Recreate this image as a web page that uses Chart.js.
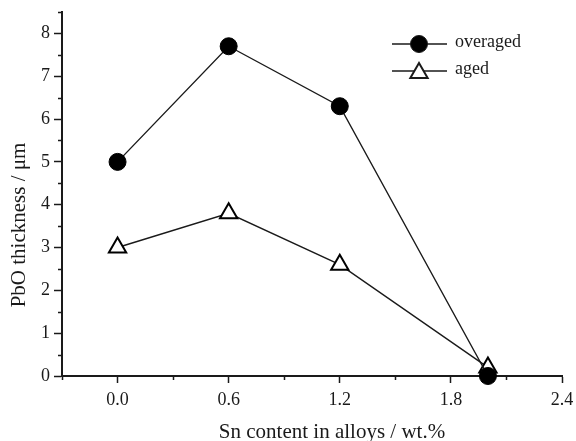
<!DOCTYPE html>
<html>
<head>
<meta charset="utf-8">
<script src="https://cdn.jsdelivr.net/npm/chart.js@4.4.0/dist/chart.umd.min.js"></script>
<style>
  body { margin: 0; background: #fff; }
  canvas { display: block; }
</style>
</head>
<body>
<canvas id="pboChart" width="576" height="441"></canvas>
<script>
// values
var snContent = [0.0, 0.6, 1.2, 2.0];
var overaged = [5.0, 7.7, 6.3, 0.0];
var aged = [3.0, 3.8, 2.6, 0.2];
var xTicks = [0.0, 0.6, 1.2, 1.8, 2.4];
var xMinor = [-0.3, 0.3, 0.9, 1.5, 2.1];
var yTicks = [0, 1, 2, 3, 4, 5, 6, 7, 8];
var yMinor = [0.5, 1.5, 2.5, 3.5, 4.5, 5.5, 6.5, 7.5, 8.5];
var seriesNames = ["overaged", "aged"];

var ink = '#1a1a1a';
var serif = "'Liberation Serif', 'Times New Roman', serif";

function toPoints(xs, ys) {
    var pts = [];
    for (var i = 0; i < xs.length; i++) {
        pts.push({x: xs[i], y: ys[i]});
    }
    return pts;
}

// short minor ticks, axis titles and the line-marker-line legend
var extras = {
    id: 'extras',
    afterDraw: function (chart) {
        var ctx = chart.ctx;
        var xs = chart.scales.x, ys = chart.scales.y;
        var area = chart.chartArea;
        ctx.save();
        ctx.strokeStyle = ink;
        ctx.lineWidth = 1.5;
        ctx.beginPath();
        xMinor.forEach(function (v) {
            var px = Math.round(xs.getPixelForValue(v)) + 0.5;
            ctx.moveTo(px, area.bottom);
            ctx.lineTo(px, area.bottom + 4);
        });
        yMinor.forEach(function (v) {
            var py = Math.round(ys.getPixelForValue(v)) + 0.5;
            ctx.moveTo(area.left, py);
            ctx.lineTo(area.left - 4, py);
        });
        ctx.stroke();

        ctx.fillStyle = ink;
        ctx.font = "21px " + serif;
        ctx.textAlign = 'center';
        ctx.textBaseline = 'middle';
        ctx.fillText("Sn content in alloys / wt.%", 332, 432);
        ctx.save();
        ctx.translate(19, 225);
        ctx.rotate(-Math.PI / 2);
        ctx.fillText("PbO thickness / \u03bcm", 0, 0);
        ctx.restore();

        // legend
        ctx.font = "18px " + serif;
        ctx.textAlign = 'left';
        chart.data.datasets.forEach(function (ds, i) {
            var ly = 44 + i * 27;
            ctx.strokeStyle = ink;
            ctx.lineWidth = 1.5;
            ctx.beginPath();
            ctx.moveTo(392, ly);
            ctx.lineTo(447, ly);
            ctx.stroke();
            ctx.fillStyle = ds.pointBackgroundColor;
            ctx.strokeStyle = ink;
            ctx.lineWidth = ds.pointBorderWidth;
            Chart.helpers.drawPoint(ctx, {
                pointStyle: ds.pointStyle,
                radius: ds.pointRadius,
                rotation: 0,
                borderWidth: ds.pointBorderWidth
            }, 419, ly + (ds.pointStyle === 'triangle' ? 2 : 0));
            ctx.fillStyle = ink;
            ctx.fillText(seriesNames[i], 455, ly - 2);
        });
        ctx.restore();
    }
};

var chart = new Chart(document.getElementById("pboChart"), {
    type: 'scatter',
    data: {
        datasets: [{
            label: seriesNames[0],
            data: toPoints(snContent, overaged),
            showLine: true,
            borderColor: ink,
            borderWidth: 1.4,
            pointStyle: 'circle',
            pointRadius: 8.5,
            pointBackgroundColor: '#000',
            pointBorderColor: '#000',
            pointBorderWidth: 1,
            clip: false
        }, {
            label: seriesNames[1],
            data: toPoints(snContent, aged),
            showLine: true,
            borderColor: ink,
            borderWidth: 1.4,
            pointStyle: 'triangle',
            pointRadius: 10,
            pointBackgroundColor: '#fff',
            pointBorderColor: '#000',
            pointBorderWidth: 2,
            clip: false
        }]
    },
    options: {
        responsive: false,
        animation: false,
        devicePixelRatio: 1,
        layout: {padding: {top: 12, right: 14, left: 0, bottom: 0}},
        plugins: {
            legend: {display: false},
            tooltip: {enabled: false}
        },
        scales: {
            x: {
                type: 'linear',
                min: -0.3,
                max: 2.4,
                afterBuildTicks: function (scale) {
                    scale.ticks = xTicks.map(function (v) { return {value: v}; });
                },
                afterFit: function (scale) {
                    scale.height = 65;
                    scale.paddingLeft = 0;
                    scale.paddingRight = 0;
                },
                grid: {drawOnChartArea: false, tickLength: 7, color: ink, tickWidth: 1.5},
                border: {display: true, color: ink, width: 2},
                ticks: {
                    color: ink,
                    padding: 6,
                    maxRotation: 0,
                    font: {family: serif, size: 18},
                    callback: function (v) { return Number(v).toFixed(1); }
                }
            },
            y: {
                type: 'linear',
                min: 0,
                max: 8.5,
                afterBuildTicks: function (scale) {
                    scale.ticks = yTicks.map(function (v) { return {value: v}; });
                },
                afterFit: function (scale) {
                    scale.width = 62;
                    scale.paddingTop = 0;
                    scale.paddingBottom = 0;
                },
                grid: {drawOnChartArea: false, tickLength: 8, color: ink, tickWidth: 1.5},
                border: {display: true, color: ink, width: 2},
                ticks: {
                    color: ink,
                    padding: 4,
                    font: {family: serif, size: 18},
                    callback: function (v) { return String(v); }
                }
            }
        }
    },
    plugins: [extras]
});
</script>
</body>
</html>
